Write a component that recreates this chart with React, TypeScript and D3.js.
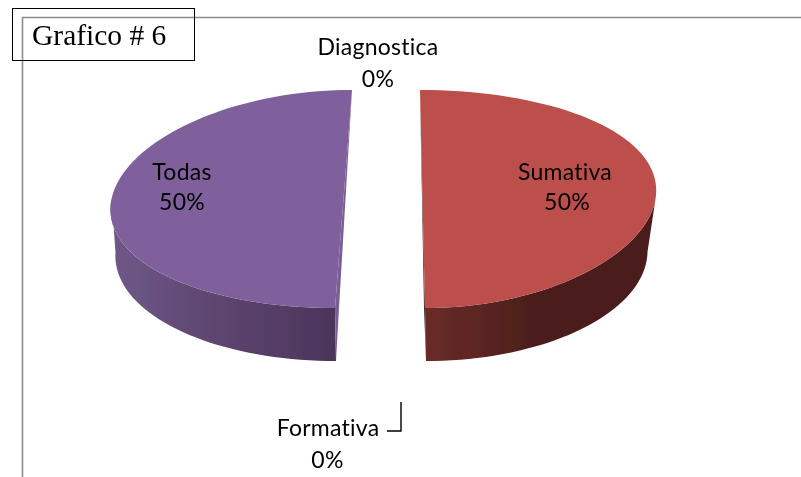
import React from "react";
import * as d3 from "d3";

const categories = ["Diagnostica", "Sumativa", "Formativa", "Todas"];
const percentages = [0, 50, 0, 50];
const labelCentres = [378, 565, 328, 182];
const labelBaselines = [55, 180, 436, 180];
const valueCentres = [378, 567, 327.5, 182];
const valueBaselines = [87, 210, 468, 210];
const topFill: Record<string, string> = { Sumativa: "#bc4f4b", Todas: "#7f619d" };
const sideStops: Record<string, [string, string, string]> = {
  Sumativa: ["#6b2b28", "#4c1f1c", "#4c1f1c"],
  Todas: ["#6e5887", "#5d4570", "#4b3559"],
};
// pie placement per exploded slice: inner edge x at back and front, radii and perspective skew
const slicePlace: Record<string, { back: number; front: number; rx: number; rxLow: number; skew: number; skewLow: number; sideA: number; sideB: number }> = {
  Sumativa: { back: 420, front: 425, rx: 233, rxLow: 224, skew: 0.09, skewLow: 0.02, sideA: 426, sideB: 655 },
  Todas: { back: 352, front: 335, rx: 232, rxLow: 229, skew: -0.06, skewLow: 0, sideA: 116, sideB: 336 },
};
const cy = 199, ry = 109, depth = 53;

const pieGen = d3.pie<number>().sort(null).value((d) => d);
const line = d3.line<[number, number]>().curve(d3.curveLinear);

export default function App() {
  const arcs = pieGen(percentages);
  const parts = arcs
    .map((a, i) => ({ a, name: categories[i] }))
    .filter((p) => p.a.endAngle - p.a.startAngle > 0.001);

  return (
    <svg
      width={801}
      height={477}
      style={{ position: "absolute", left: 0, top: 0, background: "#fff", fontFamily: "Lato, sans-serif" }}
    >
      <defs>
        <filter id="soft" x="-5%" y="-5%" width="110%" height="110%">
          <feGaussianBlur stdDeviation="0.45" />
        </filter>
        <filter id="softText" x="-5%" y="-5%" width="110%" height="110%">
          <feGaussianBlur stdDeviation="0.25" />
        </filter>
        {parts.map((p) => {
          const s = slicePlace[p.name];
          const st = sideStops[p.name];
          return (
            <linearGradient key={p.name} id={`side-${p.name}`} gradientUnits="userSpaceOnUse" x1={s.sideA} x2={s.sideB} y1={0} y2={0}>
              <stop offset="0" stopColor={st[0]} />
              <stop offset="0.45" stopColor={st[1]} />
              <stop offset="1" stopColor={st[2]} />
            </linearGradient>
          );
        })}
      </defs>

      <path d="M22.5,477V17.5H801" fill="none" stroke="#8c8c8c" strokeWidth={1.6} />

      <g filter="url(#soft)">
        {parts.map((p) => {
          const s = slicePlace[p.name];
          const edge = (y: number) => s.back + ((s.front - s.back) * (y - (cy - ry))) / (2 * ry);
          const sweep = d3.scaleLinear().domain([0, 80]).range([p.a.startAngle, p.a.endAngle]);
          const angles = d3.range(81).map((k) => sweep(k));
          const topAt = (t: number): [number, number] => {
            const y = cy - ry * Math.cos(t);
            return [edge(y) + s.rx * (1 + s.skew * Math.cos(t)) * Math.sin(t), y];
          };
          const lowAt = (t: number): [number, number] => {
            const y = cy + depth - ry * Math.cos(t);
            return [edge(y - depth) + 1 + s.rxLow * (1 + s.skewLow * Math.cos(t)) * Math.sin(t), y];
          };
          const front = angles.filter((t) => Math.cos(t) <= 0.0001);
          const side = line([...front.map(topAt), ...front.map(lowAt).reverse()]) + "Z";
          const isLeft = p.name === "Todas";
          const backPt: [number, number] = [s.back, cy - ry];
          const frontPt: [number, number] = [s.front, cy + ry];
          const baseFront: [number, number] = [s.front + 1, cy + ry + depth];
          const sliver = line([backPt, [s.front + (isLeft ? 4 : -1), cy + ry], baseFront, frontPt]) + "Z";
          return (
            <g key={p.name}>
              <path d={side} fill={`url(#side-${p.name})`} />
              <path d={sliver} fill={isLeft ? "#795f95" : "#4c2a28"} />
              <path d={line(angles.map(topAt)) + "Z"} fill={topFill[p.name]} />
            </g>
          );
        })}
      </g>

      <path d="M401,402V431H387" fill="none" stroke="#000" strokeWidth={1.4} />

      <g fontSize={23} letterSpacing={0.25} fill="#000" textAnchor="middle" filter="url(#softText)">
        {categories.map((c, i) => (
          <g key={c}>
            <text x={labelCentres[i]} y={labelBaselines[i]}>{c}</text>
            <text x={valueCentres[i]} y={valueBaselines[i]}>{percentages[i]}%</text>
          </g>
        ))}
      </g>

      <rect x={12.5} y={8.5} width={182} height={52} fill="none" stroke="#000" strokeWidth={1} />
      <text x={32} y={45} fontFamily="'Liberation Serif', serif" fontSize={29.5} fill="#000" filter="url(#softText)">Grafico # 6</text>
    </svg>
  );
}
